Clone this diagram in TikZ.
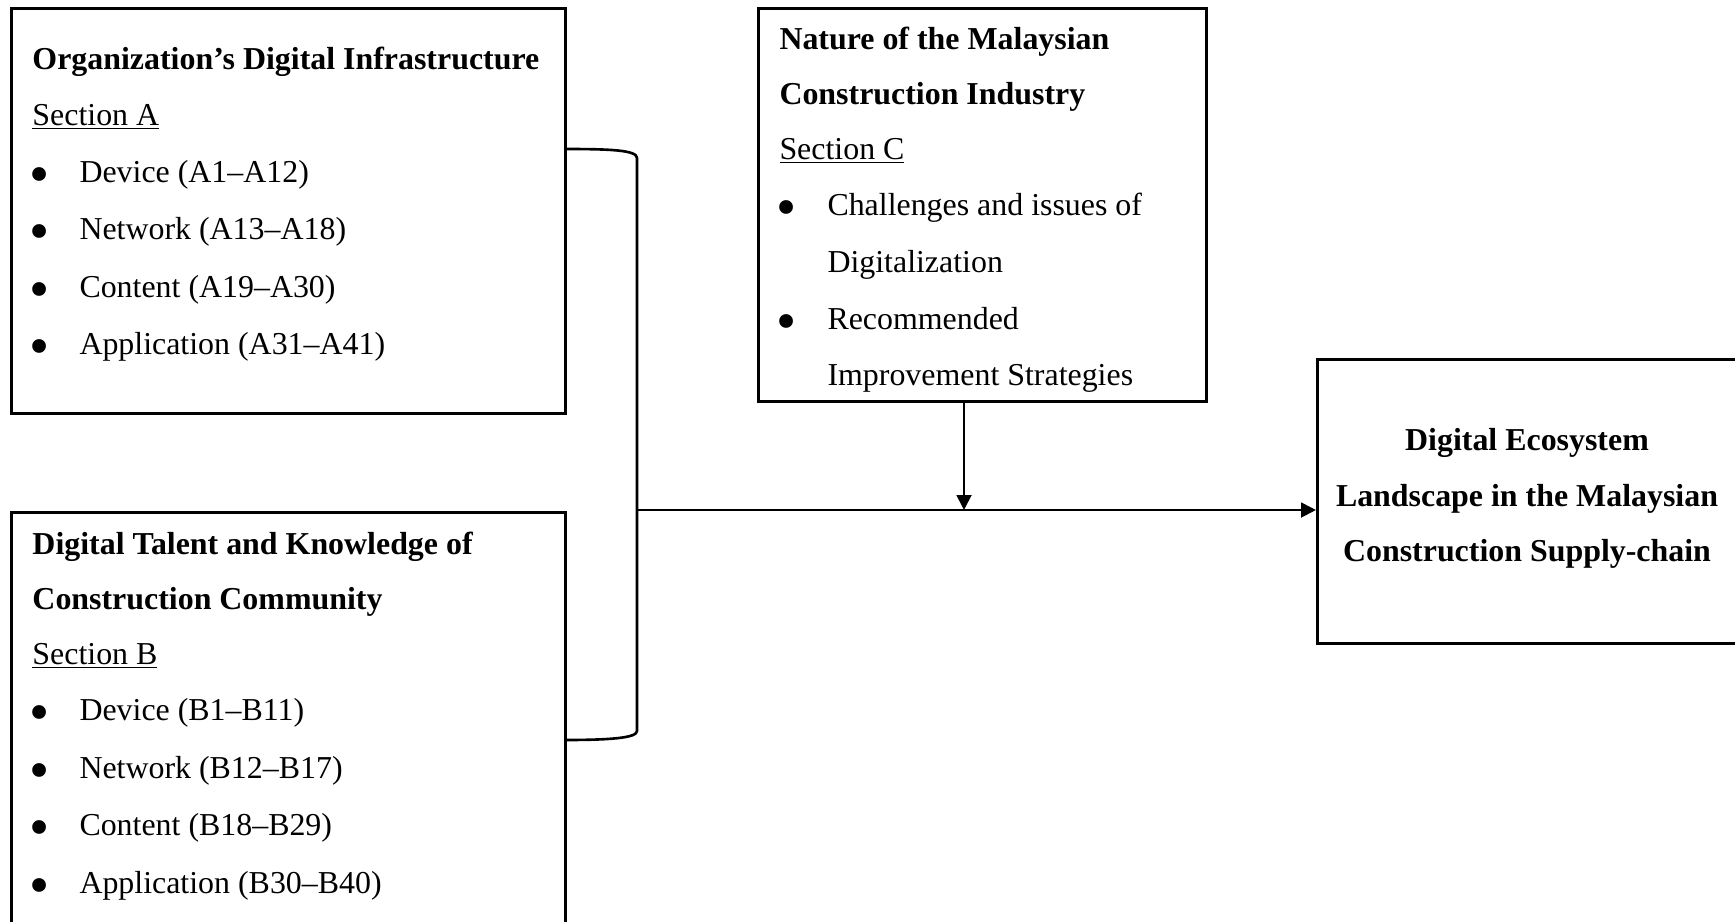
\documentclass[tikz,border=0pt]{standalone}
\usepackage{fontspec}
\setmainfont{Liberation Serif}
\usetikzlibrary{arrows.meta}
\begin{document}
\begin{tikzpicture}[x=0.4pt,y=-0.4pt,
  box/.style={draw, line width=1pt, inner sep=0pt, anchor=north west},
  txt/.style={anchor=base west, inner sep=0pt, font=\fontsize{12.76}{15}\selectfont},
  ttl/.style={anchor=base west, inner sep=0pt, font=\fontsize{12.76}{15}\selectfont\bfseries},
  ctr/.style={anchor=base, inner sep=0pt, font=\fontsize{12.76}{15}\selectfont\bfseries},
  bul/.style={anchor=base, inner sep=0pt, yshift=-4.5pt, font=\fontsize{23}{25}\selectfont},
  conn/.style={line width=1.05pt},
  tip/.style={-{Triangle[length=6pt,width=5.9pt]}}
  ]
\clip (0,0) rectangle (1735,921);
\fill[white] (0,0) rectangle (1735,921);
% boxes
\node[box, minimum width=221.6pt, minimum height=162pt] (A) at (10,7) {};
\node[box, minimum width=221.6pt, minimum height=171.6pt] (B) at (10,511) {};
\node[box, minimum width=179.2pt, minimum height=157.2pt] (C) at (757,7) {};
\node[box, minimum width=171.6pt, minimum height=113.6pt] (D) at (1316,358) {};
% box A text
\node[ttl] (a0) at (32,69) {Organization’s Digital Infrastructure};
\node[txt] (a1) at (32,125) {\underline{Section A}};
\node[bul] (ab1) at (40,182) {\textbullet};
\node[txt] (a2) at (79,182) {Device (A1–A12)};
\node[bul] (ab2) at (40,239) {\textbullet};
\node[txt] (a3) at (79,239) {Network (A13–A18)};
\node[bul] (ab3) at (40,297) {\textbullet};
\node[txt] (a4) at (79,297) {Content (A19–A30)};
\node[bul] (ab4) at (40,354) {\textbullet};
\node[txt] (a5) at (79,354) {Application (A31–A41)};
% box B text
\node[ttl] (b0) at (32,554) {Digital Talent and Knowledge of};
\node[ttl] (b1) at (32,609) {Construction Community};
\node[txt] (b2) at (32,664) {\underline{Section B}};
\node[bul] (bb1) at (40,720) {\textbullet};
\node[txt] (b3) at (79,720) {Device (B1–B11)};
\node[bul] (bb2) at (40,778) {\textbullet};
\node[txt] (b4) at (79,778) {Network (B12–B17)};
\node[bul] (bb3) at (40,835) {\textbullet};
\node[txt] (b5) at (79,835) {Content (B18–B29)};
\node[bul] (bb4) at (40,893) {\textbullet};
\node[txt] (b6) at (79,893) {Application (B30–B40)};
% box C text
\node[ttl] (c0) at (779,49) {Nature of the Malaysian};
\node[ttl] (c1) at (779,104) {Construction Industry};
\node[txt] (c2) at (779,159) {\underline{Section C}};
\node[bul] (cb1) at (787,215) {\textbullet};
\node[txt] (c3) at (827,215) {Challenges and issues of};
\node[txt] (c4) at (827,272) {Digitalization};
\node[bul] (cb2) at (787,329) {\textbullet};
\node[txt] (c5) at (827,329) {Recommended};
\node[txt] (c6) at (827,385) {Improvement Strategies};
% box D text
\node[ctr] (d0) at (1527,450) {Digital Ecosystem};
\node[ctr] (d1) at (1527,506) {Landscape in the Malaysian};
\node[ctr] (d2) at (1527,561) {Construction Supply-chain};
% connectors
\coordinate (ja) at (564,149);
\coordinate (jb) at (564,740);
\coordinate (j) at (637,510);
\coordinate (cs) at (964,400);
\coordinate (m) at (964,510);
\draw[conn] (ja) .. controls (610,149) and (637,150) .. (637,158) -- (637,731)
  .. controls (637,738) and (610,740) .. (jb);
\draw[conn, tip] (j) -- (D.west |- j);
\draw[conn, tip] (cs) -- (m);
\end{tikzpicture}
\end{document}
